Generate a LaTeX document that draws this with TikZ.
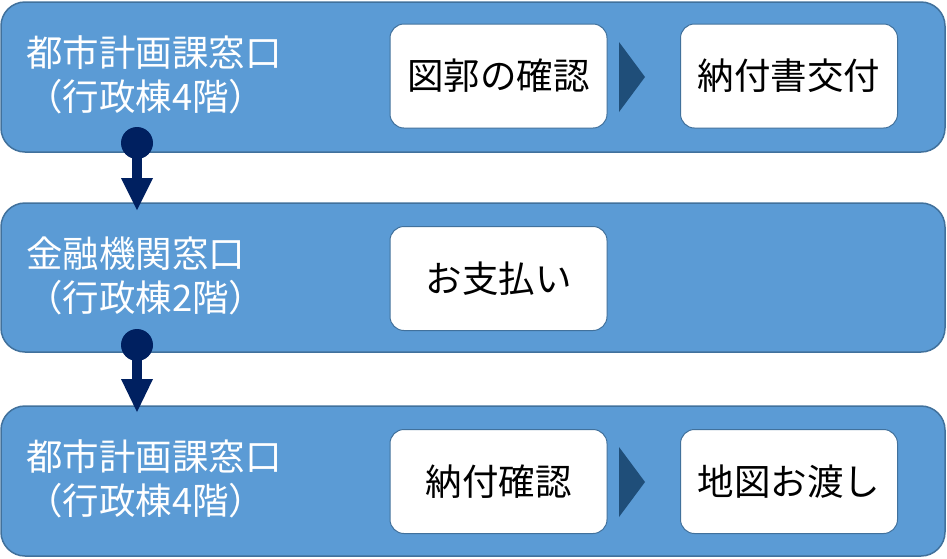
\documentclass[tikz,border=0pt]{standalone}
\usepackage{fontspec}
\newfontfamily\jp{Noto Sans CJK JP}
\definecolor{band}{HTML}{5B9BD5}
\definecolor{bandedge}{HTML}{41719C}
\definecolor{tri}{HTML}{1F4E79}
\definecolor{navy}{HTML}{002060}
\begin{document}
\begin{tikzpicture}[x=1pt,y=-1pt,
  bandbox/.style={draw=bandedge,line width=1.5pt,fill=band,rounded corners=24pt},
  stepbox/.style={draw=bandedge,line width=1pt,fill=white,rounded corners=14pt,minimum width=217pt,minimum height=104pt,font=\jp\fontsize{36.5}{40}\selectfont,text=black},
  lbl/.style={anchor=west,align=left,text=white,font=\jp\fontsize{36.5}{44}\selectfont,inner sep=0pt},
  tri/.style={fill=tri,draw=none},
  dotc/.style={fill=navy,draw=none}]
\useasboundingbox (0,0) rectangle (947,558);
% bands
\draw[bandbox] (1,2) rectangle (945,152);
\draw[bandbox] (1,203) rectangle (945,352);
\draw[bandbox] (1,406) rectangle (945,556);
% labels
\node[lbl] (l1) at (26,75) {都市計画課窓口\\（行政棟4階）};
\node[lbl] (l2) at (26,276) {金融機関窓口\\（行政棟2階）};
\node[lbl] (l3) at (26,479) {都市計画課窓口\\（行政棟4階）};
% step boxes
\node[stepbox] (a1) at (498.5,76) {図郭の確認};
\node[stepbox] (a2) at (789,76) {納付書交付};
\node[stepbox] (b1) at (498.5,278.5) {お支払い};
\node[stepbox] (c1) at (498.5,481.5) {納付確認};
\node[stepbox] (c2) at (789,481.5) {地図お渡し};
% chevrons
\fill[tri] (619,42) -- (645,77) -- (619,112) -- cycle;
\fill[tri] (619,447) -- (645,482) -- (619,517) -- cycle;
% connectors
\coordinate (d1) at (137,143);
\coordinate (e1) at (137,210);
\coordinate (d2) at (137,345);
\coordinate (e2) at (137,412);
\fill[dotc] (d1) circle (16);
\fill[navy] (132,143) rectangle (142,179);
\fill[navy] (121,178) -- (153,178) -- (e1) -- cycle;
\fill[dotc] (d2) circle (16);
\fill[navy] (132,345) rectangle (142,380);
\fill[navy] (121,379) -- (153,379) -- (e2) -- cycle;
\end{tikzpicture}
\end{document}
